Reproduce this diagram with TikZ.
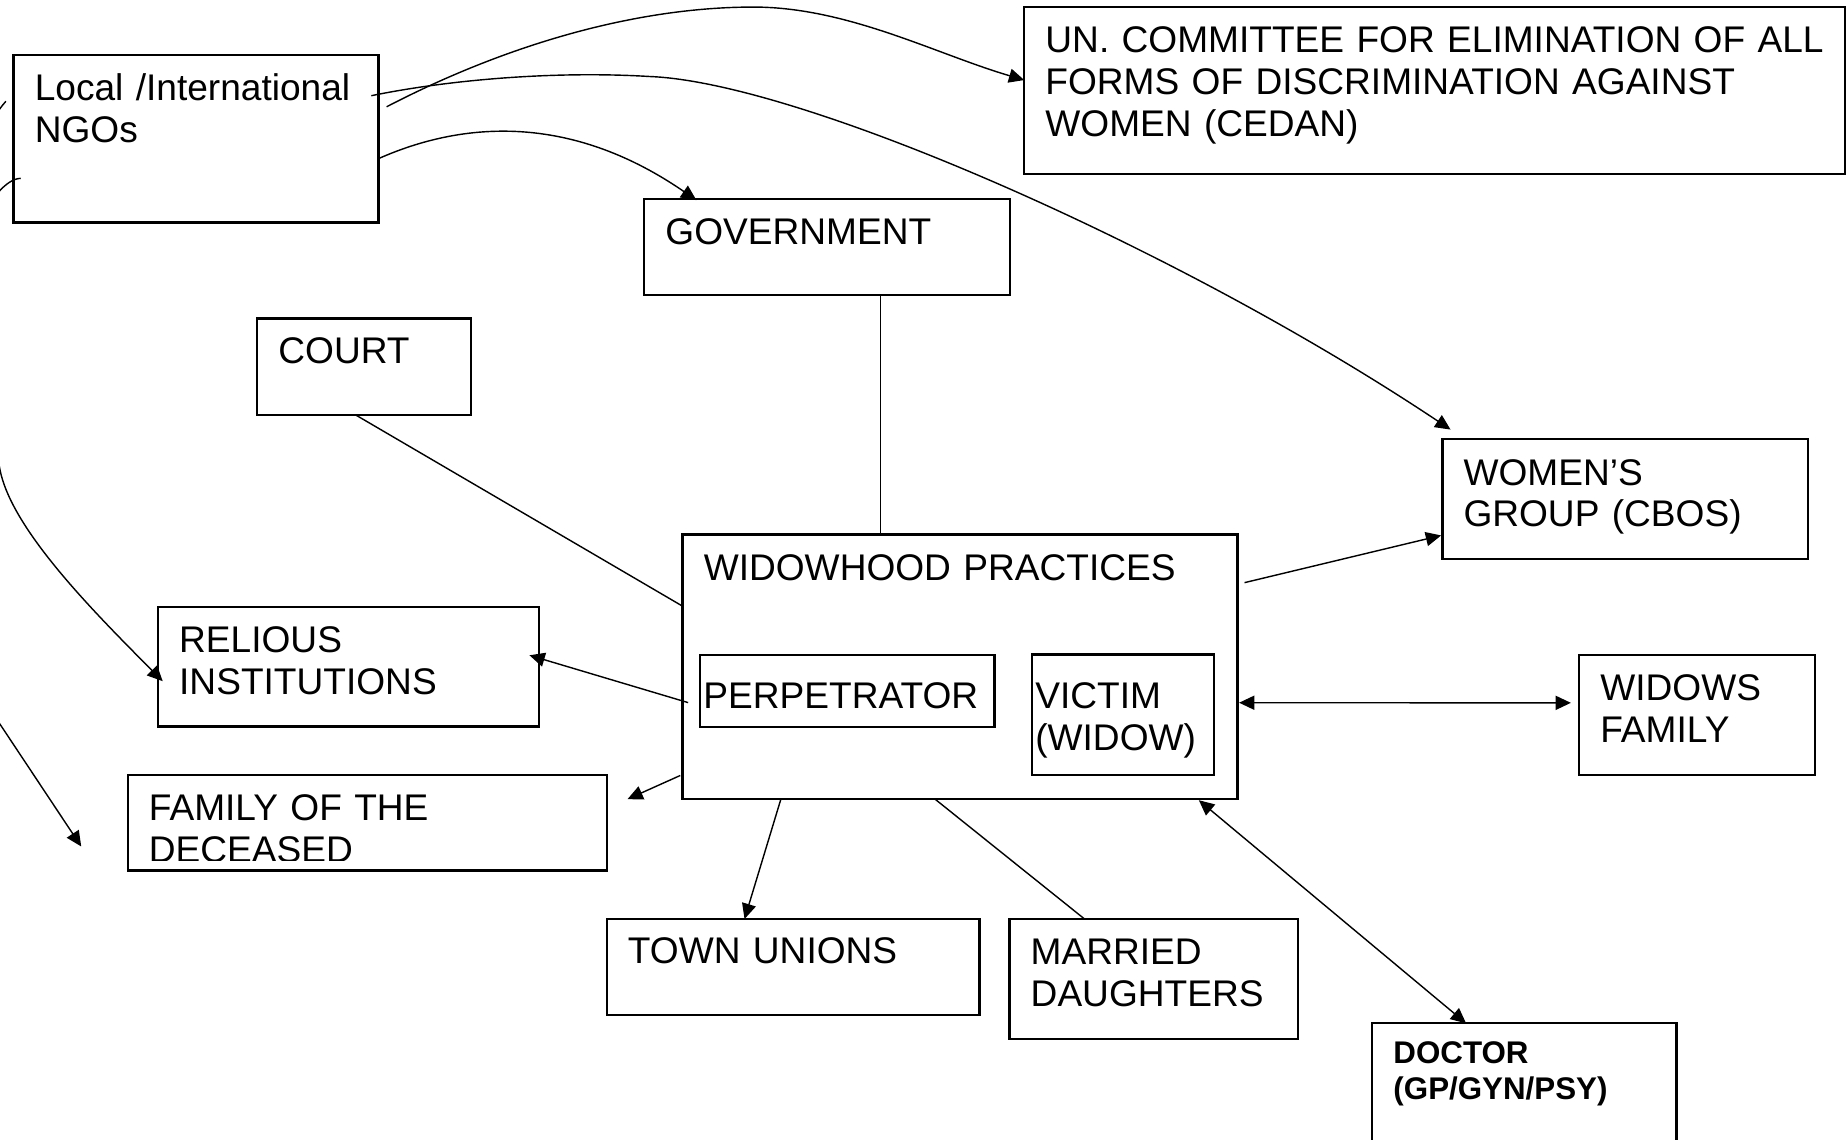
\documentclass[tikz,border=0pt]{standalone}
\usepackage{fontspec}
\setmainfont{Liberation Sans}
\usetikzlibrary{shapes, arrows.meta, positioning}

\begin{document}
\begin{tikzpicture}[x=1pt, y=-1pt, font=\fontsize{31.5}{35.6}\selectfont]

    % Define block styles
    \tikzstyle{block} = [rectangle, draw=black, line width=2pt, anchor=north west, align=left, inner xsep=18pt, inner ysep=0pt, outer sep=0pt]
    \tikzstyle{subblock} = [block, inner xsep=3pt]
    \tikzstyle{link} = [line width=1.2pt]
    \tikzstyle{arrow} = [link, ->, >={Triangle[length=13pt, width=12pt]}]
    \tikzstyle{twoway} = [arrow, <->]

    \useasboundingbox (0,0) rectangle (1568,968);
    \clip (0,0) rectangle (1568,968);

    % Place nodes
    \node (ngo) [block, text width=274pt, text height=38.8pt, text depth=103.5pt] at (11.6,46.7) {Local /International\\NGOs};
    \node (un) [block, text width=661pt, text height=39.3pt, text depth=103pt] at (870,5.7) {UN. COMMITTEE FOR ELIMINATION OF ALL\\FORMS OF DISCRIMINATION AGAINST\\WOMEN (CEDAN)};
    \node (gov) [block, text width=274.5pt, text height=38.3pt, text depth=43.3pt] at (547.2,169) {GOVERNMENT};
    \node (court) [block, text width=145.5pt, text height=38.6pt, text depth=43.4pt] at (218.5,270.4) {COURT};
    \node (women) [block, text width=274.4pt, text height=39.1pt, text depth=62.8pt] at (1225.1,372.9) {WOMEN’S\\GROUP (CBOS)};
    \node (widow) [block, text width=435.3pt, text height=38.8pt, text depth=186pt] at (579.8,453.9) {WIDOWHOOD PRACTICES};
    \node (perp) [subblock, text width=244.3pt, text height=45.6pt, text depth=15.8pt] at (594.5,556.1) {PERPETRATOR};
    \node (victim) [subblock, text width=148.8pt, text height=45.7pt, text depth=56.6pt] at (876.4,556) {VICTIM\\(WIDOW)};
    \node (relious) [block, text width=287.5pt, text height=38.4pt, text depth=63.2pt] at (134.2,515.6) {RELIOUS\\INSTITUTIONS};
    \node (widowsfam) [block, text width=164.5pt, text height=38.6pt, text depth=63.3pt] at (1341.3,556.4) {WIDOWS\\FAMILY};
    \node (family) [block, text width=371.2pt, text height=38.8pt, text depth=42.5pt] at (108.5,658.2) {FAMILY OF THE\\DECEASED};
    \node (town) [block, text width=280.7pt, text height=37.4pt, text depth=44.1pt] at (515.4,780.6) {TOWN UNIONS};
    \node (married) [block, text width=208.9pt, text height=38.4pt, text depth=63.5pt] at (857.5,780.6) {MARRIED\\DAUGHTERS};
    \node (doctor) [block, text width=222.4pt, text height=33.8pt, text depth=130pt, font=\fontsize{26.6}{31}\selectfont\bfseries] at (1165.6,869.2) {DOCTOR\\(GP/GYN/PSY)};

    % second line of the family box is cut off
    \fill [white] ([shift={(1.2,-8.5)}]family.south west) rectangle ([shift={(-1.2,-1.2)}]family.south east);

    \coordinate (famtip) at ([shift={(17.3,20.6)}]family.north east);
    \coordinate (stray) at (69,719);

    % Draw arrows
    \draw [link] ([xshift=200.6pt]gov.south west) -- ([xshift=168pt]widow.north west);
    \draw [link] ([xshift=83.5pt]court.south west) -- ([shift={(0,61)}]widow.north west);
    \draw [link] ([xshift=214.3pt]widow.south west) -- ([xshift=63.7pt]married.north west);
    \draw [arrow] ([shift={(6,41)}]widow.north east) -- ([shift={(-1,-20)}]women.south west);
    \draw [twoway] ([shift={(1.4,143)}]widow.north east) -- ([shift={(-7,40.6)}]widowsfam.north west);
    \draw [arrow] ([shift={(-10,40.7)}]perp.north west) -- ([shift={(-8,41)}]relious.north east);
    \draw [arrow] ([shift={(-2,-20)}]widow.south west) -- (famtip);
    \draw [arrow] ([xshift=83.5pt]widow.south west) -- ([xshift=117pt]town.north west);
    \draw [twoway] ([shift={(-32.8,1)}]widow.south east) -- ([xshift=79.7pt]doctor.north west);

    % NGO curves
    \draw [arrow] ([shift={(6.8,44)}]ngo.north east) .. controls (430,38) and (540,6) .. (640,6) .. controls (720,6) and (795,46) .. ([shift={(0,62.3)}]un.north west);
    \draw [arrow] ([shift={(-6.2,34.6)}]ngo.north east) .. controls (380,68) and (470,60) .. (552,65) .. controls (680,70) and (1000,210) .. ([shift={(7,-8)}]women.north west);
    \draw [arrow] ([shift={(0,88)}]ngo.north east) .. controls (400,100) and (490,100) .. ([shift={(44.3,1)}]gov.north west);
    \draw [arrow] ([shift={(-6.6,39.3)}]ngo.north west) .. controls (-60,160) and (-10,348) .. (0,399) .. controls (10,450) and (80,520) .. ([shift={(4,63)}]relious.north west);
    \draw [arrow] ([shift={(6,104.8)}]ngo.north west) .. controls (-30,152) and (-123,429) .. (-20,585) -- (stray);

\end{tikzpicture}
\end{document}
